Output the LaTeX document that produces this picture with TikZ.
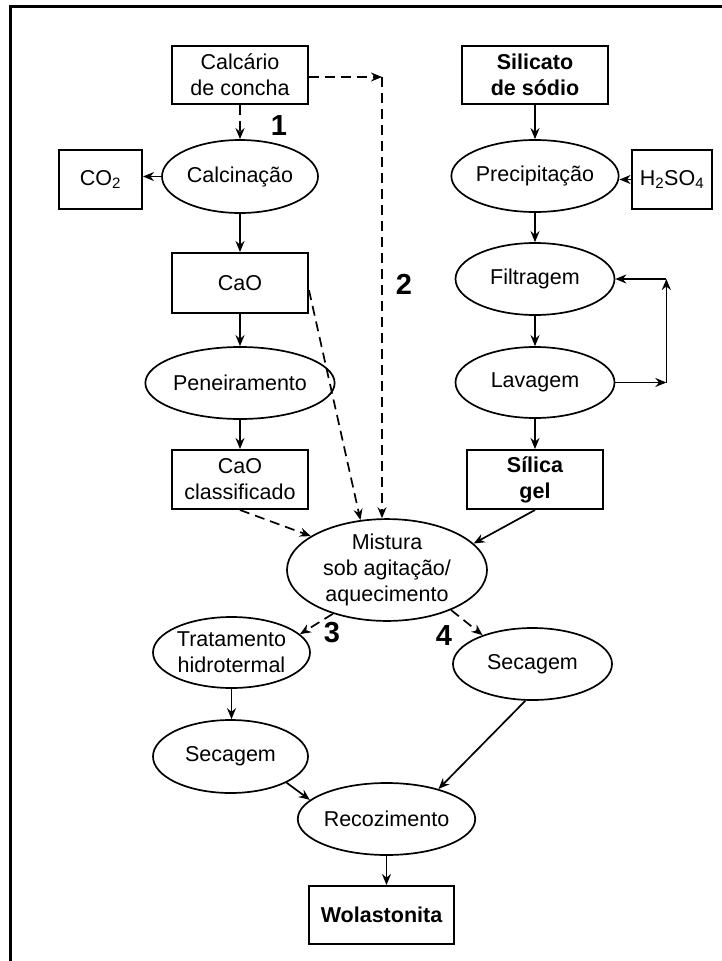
\documentclass[tikz,border=0pt]{standalone}
\usepackage{fontspec}
\setmainfont{Liberation Sans}
\usetikzlibrary{shapes.geometric,arrows.meta,calc}
\begin{document}
\begin{tikzpicture}[x=1pt,y=-1pt,
  txt/.style={font=\fontsize{21.5}{26}\selectfont, align=center, inner sep=0pt},
  boxnode/.style={txt, draw, line width=2pt, rectangle},
  ellnode/.style={txt, draw, line width=1.7pt, ellipse},
  bld/.style={font=\fontsize{21.5}{26}\selectfont\bfseries},
  num/.style={font=\fontsize{29}{30}\selectfont\bfseries, inner sep=0pt},
  arr/.style={line width=1.7pt, -{Stealth[length=11pt,width=9pt]}},
  darr/.style={arr, dash pattern=on 10pt off 6pt},
]
\useasboundingbox (0,0) rectangle (722,961);
% frame
\draw[line width=2.5pt] (10.5,961) -- (10.5,6.5) -- (722,6.5);

% left column
\node[boxnode, minimum width=136pt, minimum height=58pt] (calc) at (240,75) {Calcário\\de concha};
\node[ellnode, minimum width=156pt, minimum height=73pt] (calcin) at (240,176.5) {Calcinação};
\node[boxnode, minimum width=83pt, minimum height=59pt] (co2) at (100.5,179.5) {CO\textsubscript{2}};
\node[boxnode, minimum width=136pt, minimum height=60pt] (cao) at (240,283) {CaO};
\node[ellnode, minimum width=156pt, minimum height=72pt] (pene) at (240,383) {Peneiramento};
\node[boxnode, minimum width=136pt, minimum height=59pt] (caocl) at (240,479.5) {CaO\\classificado};

% right column
\node[boxnode, bld, minimum width=146pt, minimum height=58pt] (silic) at (535,75) {Silicato\\de sódio};
\node[ellnode, minimum width=159pt, minimum height=72pt] (precip) at (535,176) {Precipitação};
\node[boxnode, minimum width=80pt, minimum height=59pt] (h2so4) at (672,179.5) {H\textsubscript{2}SO\textsubscript{4}};
\node[ellnode, minimum width=159pt, minimum height=72pt] (filt) at (535,279) {Filtragem};
\node[ellnode, minimum width=159pt, minimum height=71pt] (lav) at (535,382.5) {Lavagem};
\node[boxnode, bld, minimum width=136pt, minimum height=59pt] (silica) at (535,479.5) {Sílica\\gel};

% middle / bottom
\node[ellnode, minimum width=200pt, minimum height=94pt] (mist) at (387,570) {Mistura\\sob agitação/\\aquecimento};
\node[ellnode, minimum width=157pt, minimum height=71pt] (trat) at (231.5,652.5) {Tratamento\\hidrotermal};
\node[ellnode, minimum width=159pt, minimum height=72pt] (sec2) at (532.5,664) {Secagem};
\node[ellnode, minimum width=155pt, minimum height=73pt] (sec1) at (230.5,756.5) {Secagem};
\node[ellnode, minimum width=157pt, minimum height=72pt] (recoz) at (386.5,819) {Recozimento};
\node[boxnode, bld, minimum width=145pt, minimum height=58pt] (wol) at (381.5,915) {Wolastonita};

% numbers
\node[num] (n1) at (279,126) {1};
\node[num] (n2) at (404,284) {2};
\node[num] (n3) at (332,633) {3};
\node[num] (n4) at (444,636) {4};

% coordinates
\coordinate (c2) at (382,77);
\coordinate (lr) at ($(lav.east)+(51,0)$);
\coordinate (ur) at (lr |- filt.east);

% left column connectors
\draw[darr] (calc.south) -- (calcin.north);
\draw[arr] (calcin.west) -- (calcin.west -| co2.east);
\draw[arr] (calcin.south) -- (cao.north);
\draw[arr] (cao.south) -- (pene.north);
\draw[arr] (pene.south) -- (caocl.north);

% route 2
\draw[darr] (calc.east |- c2) -- (c2);
\draw[darr] (c2) -- (c2 |- mist.north);
\draw[darr] (cao.-6) -- (mist.118);
\draw[darr] (caocl.south) -- (mist.156);

% right column connectors
\draw[arr] (silic.south) -- (precip.north);
\draw[arr] (h2so4.west) -- (h2so4.west -| precip.east);
\draw[arr] (precip.south) -- (filt.north);
\draw[arr] (filt.south) -- (lav.north);
\draw[arr] (lav.south) -- (silica.north);
\draw[arr] (lav.east) -- (lr);
\draw[arr] (lr) -- (ur);
\draw[arr] (ur) -- (filt.east);
\draw[arr] (silica.south) -- (mist.17);

% bottom connectors
\draw[darr] (mist.219) -- (trat.15);
\draw[darr] (mist.-32) -- (sec2.150);
\draw[arr] (trat.south) -- (trat.south |- sec1.north);
\draw[arr] (sec1.-25) -- (recoz.166);
\draw[arr] (sec2.259) -- (recoz.30);
\draw[arr] (recoz.south) -- (recoz.south |- wol.north);
\end{tikzpicture}
\end{document}
